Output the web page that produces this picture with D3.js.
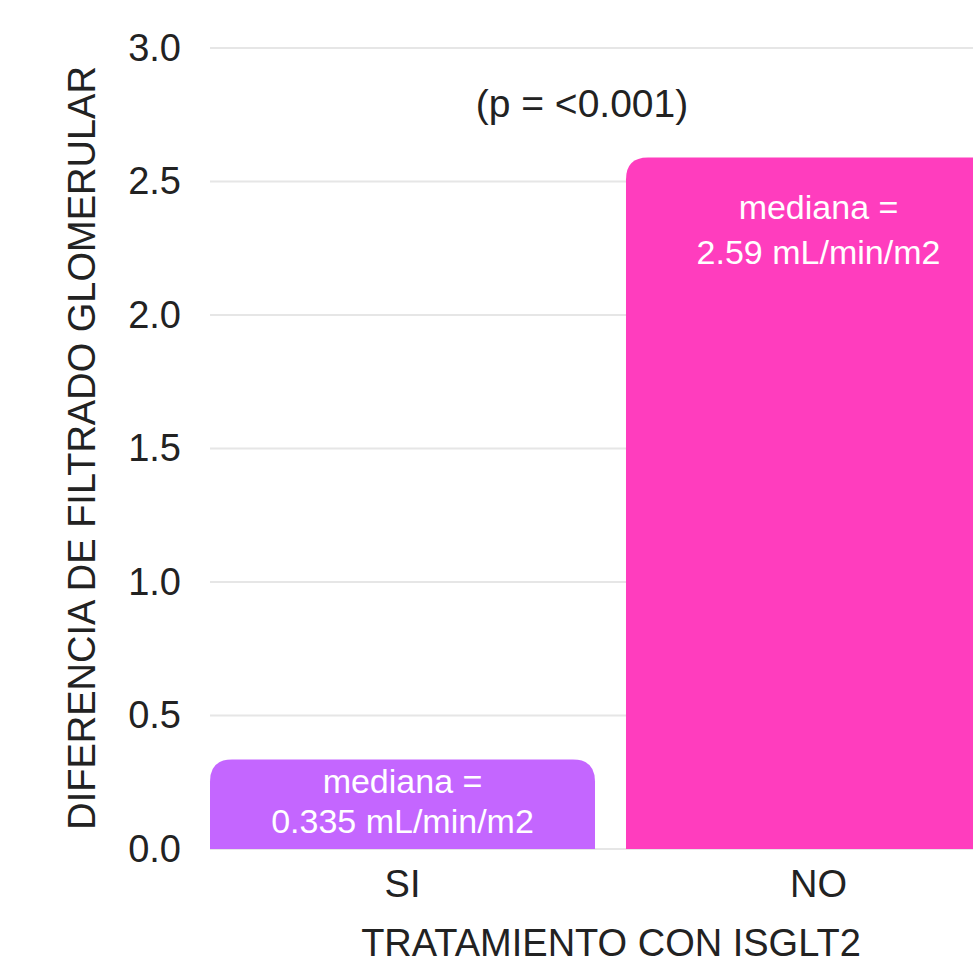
<!DOCTYPE html>
<html>
<head>
<meta charset="utf-8">
<script src="https://cdn.jsdelivr.net/npm/d3@7"></script>
<style>
  html, body { margin: 0; padding: 0; background: #fff; overflow: hidden; }
  svg { display: block; }
  text { font-family: "Liberation Sans", Arial, sans-serif; }
</style>
</head>
<body>
<div id="chart"></div>
<script>
// Median change in glomerular filtration rate by SGLT2-inhibitor treatment
const categories = ["SI", "NO"];
const medians = [0.335, 2.59];
const barColors = ["#c466ff", "#ff3dbe"];
const yTicks = [0, 0.5, 1.0, 1.5, 2.0, 2.5, 3.0];
const pValueLabel = "(p = <0.001)";
const xTitle = "TRATAMIENTO CON ISGLT2";
const yTitle = "DIFERENCIA DE FILTRADO GLOMERULAR";

const width = 973, height = 961;
const margin = { left: 210, top: 48, bottom: 112 };
const plotRight = 1011;

const svg = d3.select("#chart").append("svg")
  .attr("width", width).attr("height", height);

const x = d3.scaleBand()
  .domain(categories)
  .range([margin.left, plotRight])
  .paddingInner(0.0745)
  .paddingOuter(0);

const y = d3.scaleLinear()
  .domain([0, 3])
  .range([height - margin.bottom, margin.top]);

// gridlines
svg.append("g")
  .selectAll("line")
  .data(yTicks)
  .join("line")
  .attr("x1", margin.left)
  .attr("x2", plotRight)
  .attr("y1", d => y(d))
  .attr("y2", d => y(d))
  .attr("stroke", "#e6e6e6")
  .attr("stroke-width", 2);

// y axis labels
const yAxis = d3.axisLeft(y).tickValues(yTicks).tickFormat(d3.format(".1f")).tickSize(0).tickPadding(29);
svg.append("g")
  .attr("transform", `translate(${margin.left},0)`)
  .call(yAxis)
  .call(g => g.select(".domain").remove())
  .selectAll("text")
  .attr("font-size", 38)
  .attr("fill", "#222");

// bars with rounded top corners
const r = 22;
function barPath(x0, w, yTop, yBase) {
  const rr = Math.min(r, (yBase - yTop));
  return `M${x0},${yBase}V${yTop + rr}Q${x0},${yTop} ${x0 + rr},${yTop}` +
    `H${x0 + w - rr}Q${x0 + w},${yTop} ${x0 + w},${yTop + rr}V${yBase}Z`;
}
const data = categories.map((c, i) => ({ c, v: medians[i], color: barColors[i] }));

svg.append("g")
  .selectAll("path")
  .data(data)
  .join("path")
  .attr("d", d => barPath(x(d.c), x.bandwidth(), y(d.v), y(0)))
  .attr("fill", d => d.color);

// value labels inside bars: hang from the top, or sit on the base when the bar is short
const lbl = svg.append("g")
  .selectAll("text")
  .data(data)
  .join("text")
  .attr("text-anchor", "middle")
  .attr("fill", "#fff")
  .attr("font-size", 34);
lbl.each(function (d) {
  const cx = x(d.c) + x.bandwidth() / 2;
  const tall = y(0) - y(d.v) > 140;
  const y1 = tall ? y(d.v) + 62 : y(0) - 56;
  const y2 = tall ? y(d.v) + 107 : y(0) - 16;
  const t = d3.select(this);
  t.append("tspan").attr("x", cx).attr("y", y1).text("mediana =");
  t.append("tspan").attr("x", cx).attr("y", y2).text(`${d.v} mL/min/m2`);
});

// x axis labels
const xAxis = d3.axisBottom(x).tickSize(0).tickPadding(21);
svg.append("g")
  .attr("transform", `translate(0,${y(0)})`)
  .call(xAxis)
  .call(g => g.select(".domain").remove())
  .selectAll("text")
  .attr("font-size", 38)
  .attr("fill", "#222");

// axis titles
svg.append("text")
  .attr("x", 611).attr("y", 956)
  .attr("text-anchor", "middle")
  .attr("font-size", 38)
  .attr("fill", "#222")
  .text(xTitle);

svg.append("text")
  .attr("transform", `translate(95,${(68 + 828) / 2}) rotate(-90)`)
  .attr("text-anchor", "middle")
  .attr("font-size", 38)
  .attr("fill", "#222")
  .text(yTitle);

// significance note
svg.append("text")
  .attr("x", 582).attr("y", 117)
  .attr("text-anchor", "middle")
  .attr("font-size", 39)
  .attr("fill", "#222")
  .text(pValueLabel);
</script>
</body>
</html>
